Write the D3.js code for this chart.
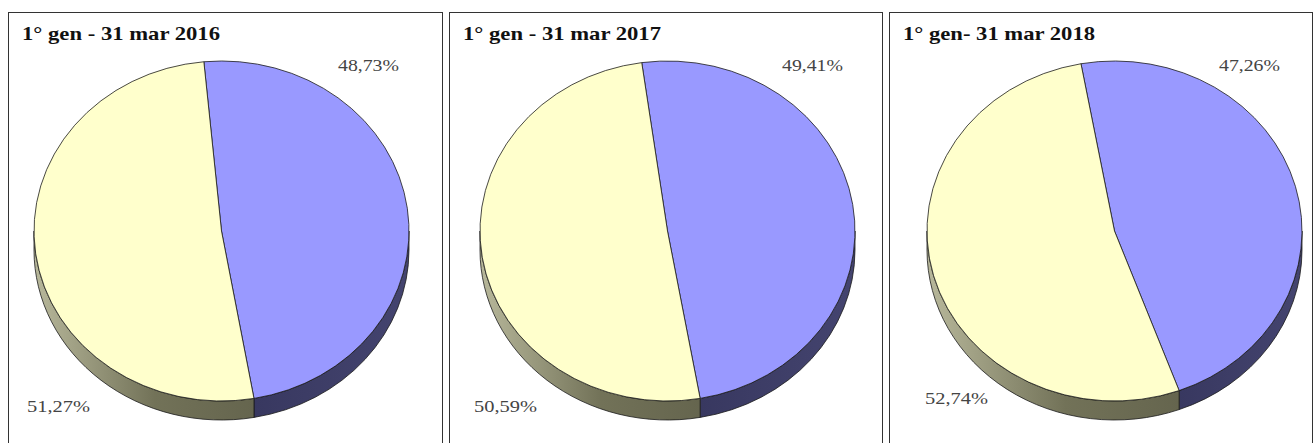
<!DOCTYPE html>
<html>
<head>
<meta charset="utf-8">
<script src="https://cdn.jsdelivr.net/npm/d3@7"></script>
<style>
  body { margin: 0; background: #fff; }
  svg { display: block; }
  .serif { font-family: "Liberation Serif", "Times New Roman", Times, serif; }
</style>
</head>
<body>
<svg id="chart"></svg>
<script>
// dati
const titles = ["1° gen - 31 mar 2016", "1° gen - 31 mar 2017", "1° gen- 31 mar 2018"];
const series = ["quota blu", "quota gialla"];
const blueValues = [48.73, 49.41, 47.26];
const yellowValues = [51.27, 50.59, 52.74];

const width = 1313;
const height = 443;
const svg = d3.select("#chart").attr("width", width).attr("height", height);

// layout dei pannelli (bordi, centro torta, primo angolo, etichette)
const panels = [
  { x0: 8,   x1: 442,  cx: 221.5,  start: -5.4, blueEnd: 399,  yellowStart: 27,  yellowBase: 412 },
  { x0: 449, x1: 882,  cx: 667.5,  start: -7.9, blueEnd: 843,  yellowStart: 474, yellowBase: 412 },
  { x0: 889, x1: 1312, cx: 1114.5, start: -10.3, blueEnd: 1280, yellowStart: 925, yellowBase: 404 }
];
const cy = 231, rx = 187.5, ry = 170, depth = 19;
const topColors = ["#9999ff", "#ffffcc"];

const locale = d3.formatLocale({ decimal: ",", thousands: ".", grouping: [3], currency: ["", "€"] });
const fmt = v => locale.format(".2f")(v) + "%";

const defs = svg.append("defs");
const yGrad = defs.append("linearGradient").attr("id", "yellowSide");
yGrad.append("stop").attr("offset", "0%").attr("stop-color", "#b8b89b");
yGrad.append("stop").attr("offset", "55%").attr("stop-color", "#727258");
yGrad.append("stop").attr("offset", "100%").attr("stop-color", "#65654e");
const bGrad = defs.append("linearGradient").attr("id", "blueSide");
bGrad.append("stop").attr("offset", "0%").attr("stop-color", "#383860");
bGrad.append("stop").attr("offset", "100%").attr("stop-color", "#44446f");
const sideFill = ["url(#blueSide)", "url(#yellowSide)"];

function pt(cx, a, dy) {
  return [cx + rx * Math.sin(a), cy - ry * Math.cos(a) + (dy || 0)];
}

// faccia superiore di una fetta
function topPath(cx, a0, a1) {
  const p0 = pt(cx, a0), p1 = pt(cx, a1);
  const large = (a1 - a0) > Math.PI ? 1 : 0;
  return `M${cx},${cy}L${p0}A${rx},${ry} 0 ${large} 1 ${p1}Z`;
}

// fianco visibile (parte anteriore, tra 90° e 270°)
function sidePath(cx, a0, a1) {
  const lo = Math.max(a0, Math.PI / 2), hi = Math.min(a1, Math.PI * 1.5);
  if (hi <= lo) return null;
  const p0 = pt(cx, lo), p1 = pt(cx, hi);
  const q1 = pt(cx, hi, depth), q0 = pt(cx, lo, depth);
  return `M${p0}A${rx},${ry} 0 0 1 ${p1}L${q1}A${rx},${ry} 0 0 0 ${q0}Z`;
}

panels.forEach((p, i) => {
  const g = svg.append("g");

  // cornice
  g.append("rect")
    .attr("x", p.x0 + 0.5).attr("y", 12.5)
    .attr("width", p.x1 - p.x0).attr("height", 460)
    .attr("fill", "none").attr("stroke", "#333").attr("stroke-width", 1);

  // titolo
  g.append("text")
    .attr("class", "serif")
    .attr("x", p.x0 + 14).attr("y", 40)
    .attr("font-weight", "bold").attr("font-size", 19)
    .attr("fill", "#111")
    .attr("textLength", i === 2 ? 192 : 198).attr("lengthAdjust", "spacingAndGlyphs")
    .text(titles[i]);

  const start = p.start * Math.PI / 180;
  const pie = d3.pie().sort(null).startAngle(start).endAngle(start + 2 * Math.PI);
  const arcs = pie([blueValues[i], yellowValues[i]]);

  // fianchi
  arcs.forEach((a, k) => {
    const d = sidePath(p.cx, a.startAngle, a.endAngle);
    if (d) g.append("path").attr("d", d)
      .attr("fill", sideFill[k]).attr("stroke", "#1a1a1a").attr("stroke-width", 0.8)
      .attr("stroke-linejoin", "round");
  });
  // facce superiori
  arcs.forEach((a, k) => {
    g.append("path").attr("d", topPath(p.cx, a.startAngle, a.endAngle))
      .attr("fill", topColors[k]).attr("stroke", "#1a1a1a").attr("stroke-width", 0.8)
      .attr("stroke-linejoin", "round");
  });

  // etichette
  const lab = g.append("g")
    .attr("class", "serif")
    .attr("font-size", 17).attr("fill", "#444");
  lab.append("text")
    .attr("x", p.blueEnd).attr("y", 71).attr("text-anchor", "end")
    .attr("textLength", 61).attr("lengthAdjust", "spacingAndGlyphs")
    .text(fmt(blueValues[i]));
  lab.append("text")
    .attr("x", p.yellowStart).attr("y", p.yellowBase)
    .attr("textLength", 63).attr("lengthAdjust", "spacingAndGlyphs")
    .text(fmt(yellowValues[i]));
});
</script>
</body>
</html>
